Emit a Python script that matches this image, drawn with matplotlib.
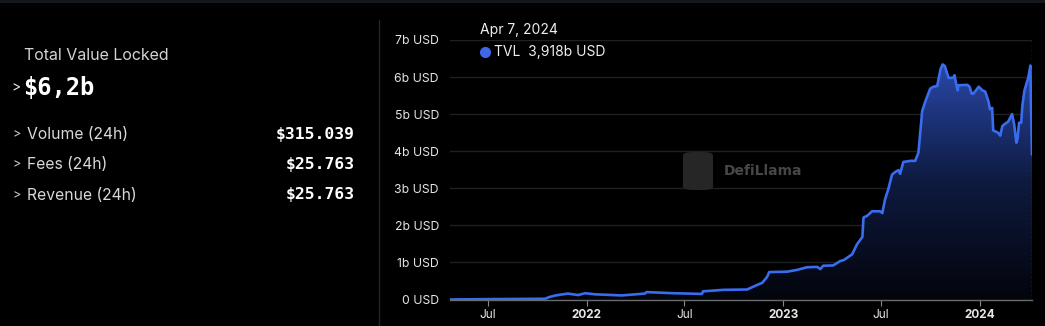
import numpy as np
import pandas as pd
import matplotlib
matplotlib.use("Agg")
import matplotlib.pyplot as plt
import matplotlib.dates as mdates
from matplotlib.colors import LinearSegmentedColormap
from matplotlib.patches import FancyBboxPatch, Rectangle

# TVL series (billions USD)
dates = [
    "2021-04-22", "2021-07-01", "2021-10-16", "2021-10-22", "2021-11-04", "2021-11-27",
    "2021-12-16", "2021-12-29", "2022-01-16", "2022-03-07", "2022-04-19", "2022-04-22",
    "2022-06-10", "2022-08-03", "2022-08-05", "2022-09-11", "2022-10-26", "2022-11-13",
    "2022-11-23", "2022-12-02", "2022-12-06", "2023-01-08", "2023-01-27", "2023-02-14",
    "2023-03-05", "2023-03-11", "2023-03-16", "2023-04-04", "2023-04-17", "2023-04-23",
    "2023-04-30", "2023-05-09", "2023-05-18", "2023-05-28", "2023-05-30", "2023-06-06",
    "2023-06-15", "2023-06-30", "2023-07-04", "2023-07-09", "2023-07-15", "2023-07-22",
    "2023-07-28", "2023-08-03", "2023-08-06", "2023-08-12", "2023-08-25", "2023-09-03",
    "2023-09-09", "2023-09-16", "2023-09-22", "2023-10-01", "2023-10-07", "2023-10-14",
    "2023-10-20", "2023-10-24", "2023-10-28", "2023-11-04", "2023-11-13", "2023-11-15",
    "2023-11-19", "2023-11-21", "2023-11-22", "2023-12-09", "2023-12-13", "2023-12-17",
    "2023-12-20", "2023-12-30", "2024-01-06", "2024-01-11", "2024-01-17", "2024-01-20",
    "2024-01-24", "2024-01-26", "2024-02-04", "2024-02-08", "2024-02-12", "2024-02-17",
    "2024-02-23", "2024-02-26", "2024-03-01", "2024-03-05", "2024-03-09", "2024-03-11",
    "2024-03-14", "2024-03-18", "2024-03-20", "2024-03-24", "2024-03-31", "2024-04-04",
    "2024-04-05", "2024-04-07",
]
tvl = [
    0.00, 0.01, 0.02, 0.06, 0.11, 0.16,
    0.12, 0.17, 0.14, 0.11, 0.16, 0.20,
    0.17, 0.15, 0.22, 0.26, 0.27, 0.39,
    0.45, 0.61, 0.74, 0.75, 0.80, 0.87,
    0.88, 0.82, 0.91, 0.92, 1.04, 1.06,
    1.13, 1.22, 1.49, 1.69, 2.21, 2.26,
    2.38, 2.38, 2.33, 2.70, 2.97, 3.37,
    3.44, 3.49, 3.39, 3.71, 3.74, 3.74,
    3.96, 5.08, 5.35, 5.69, 5.74, 5.76,
    6.21, 6.34, 6.30, 5.98, 5.98, 6.05,
    5.76, 5.64, 5.78, 5.79, 5.74, 5.55,
    5.55, 5.74, 5.64, 5.61, 5.35, 5.13,
    5.17, 4.56, 4.50, 4.42, 4.68, 4.74,
    4.80, 4.89, 5.00, 4.71, 4.23, 4.32,
    4.77, 4.77, 5.22, 5.64, 5.98, 6.31,
    5.35, 3.918,
]
y_ticks = [0, 1, 2, 3, 4, 5, 6, 7]
y_labels = ["0 USD", "1b USD", "2b USD", "3b USD", "4b USD", "5b USD", "6b USD", "7b USD"]
x_ticks = ["2021-07-01", "2022-01-01", "2022-07-01", "2023-01-01", "2023-07-01", "2024-01-01"]
x_labels = ["Jul", "2022", "Jul", "2023", "Jul", "2024"]

stats_names = ["Volume (24h)", "Fees (24h)", "Revenue (24h)"]
stats_values = ["$315.039", "$25.763", "$25.763"]

BG = "#000000"
LINE = "#3a6cf0"
TXT = "#e6e6e6"
W, H = 1045, 326

fig = plt.figure(figsize=(W / 100, H / 100), dpi=100, facecolor=BG)

# top strip + separator
fig.add_artist(Rectangle((0, 1 - 3 / H), 1, 3 / H, transform=fig.transFigure,
                         color="#14171b", lw=0))
fig.add_artist(plt.Line2D([379 / W, 379 / W], [0, 1 - 20 / H], transform=fig.transFigure,
                          color="#222428", lw=1))

# left panel
def fy(py):
    return 1 - py / H

fig.text(24 / W, fy(55), "Total Value Locked", color="#d4d4d4", fontsize=11.5,
         family="Inter", va="center", ha="left")
fig.text(11 / W, fy(87), ">", color=TXT, fontsize=10, family="Inter", va="center")
fig.text(23 / W, fy(88), "$6,2b", color="#ffffff", fontsize=17, family="DejaVu Sans Mono",
         fontweight="bold", va="center", ha="left")
for i, (name, val) in enumerate(zip(stats_names, stats_values)):
    y = fy(134 + 30.5 * i)
    fig.text(12 / W, y, ">", color="#cfcfcf", fontsize=9, family="Inter", va="center")
    fig.text(27 / W, y, name, color="#d8d8d8", fontsize=11.3, family="Inter", va="center")
    fig.text(355 / W, y, val, color="#ffffff", fontsize=11.8, family="DejaVu Sans Mono",
             fontweight="bold", va="center", ha="right")

# chart
ax = fig.add_axes([450 / W, (H - 299.5) / H, (1032 - 450) / W, (299.5 - 40) / H])
ax.set_facecolor(BG)
d = pd.to_datetime(dates)
v = np.array(tvl)
xn = mdates.date2num(d)

ax.set_xlim(xn[0], xn[-1])
ax.set_ylim(0, 7)

# gradient fill under the curve
cmap = LinearSegmentedColormap.from_list("tvl", ["#03050c", "#0e1a40", "#2a48a8"])
grad = np.linspace(0, 1, 256).reshape(-1, 1)
poly = ax.fill_between(xn, v, 0, color="none", lw=0)
img = ax.imshow(grad, extent=[xn[0], xn[-1], 0, v.max()], origin="lower", aspect="auto",
                cmap=cmap, zorder=1)
img.set_clip_path(poly.get_paths()[0], transform=ax.transData)
ax.plot(xn, v, color=LINE, lw=1.9, zorder=3, solid_joinstyle="round")

ax.set_yticks(y_ticks)
ax.set_yticklabels(y_labels)
ax.grid(axis="y", color="#1f2023", lw=1)
ax.set_axisbelow(True)
xt = mdates.date2num(pd.to_datetime(x_ticks))
ax.set_xticks(xt)
ax.set_xticklabels(x_labels)
for lab in ax.get_xticklabels():
    if lab.get_text().isdigit():
        lab.set_fontweight("bold")
ax.tick_params(axis="y", length=0, pad=8, labelsize=8.8, labelcolor=TXT)
ax.tick_params(axis="x", length=4, color="#8a8a8a", pad=3, labelsize=8.5, labelcolor=TXT)
for lab in ax.get_xticklabels() + ax.get_yticklabels():
    lab.set_family("Inter")
for s in ["top", "right", "left"]:
    ax.spines[s].set_visible(False)
ax.spines["bottom"].set_color("#6a6a6a")
ax.spines["bottom"].set_linewidth(1)
ax.axvline(xn[-1], color="#cfcfcf", lw=0.8, ls=(0, (2, 2)), zorder=4)

# tooltip
fig.text(480 / W, fy(30), "Apr 7, 2024", color="#eeeeee", fontsize=10, family="Inter",
         va="center")
fig.add_artist(plt.Line2D([485 / W], [fy(52)], marker="o", markersize=7, color="#3f68e6",
                          transform=fig.transFigure))
fig.text(494 / W, fy(52), "TVL  3,918b USD", color="#eeeeee", fontsize=10, family="Inter",
         va="center")

# watermark
fig.add_artist(FancyBboxPatch((683 / W, fy(190)), 30 / W, 38 / H,
                              boxstyle="round,pad=0,rounding_size=0.01",
                              transform=fig.transFigure, color="#262626", lw=0))
fig.text(724 / W, fy(171), "DefiLlama", color="#474747", fontsize=10, family="DejaVu Sans",
         fontweight="bold", va="center")

fig.savefig("out.png", dpi=100, facecolor=BG)
